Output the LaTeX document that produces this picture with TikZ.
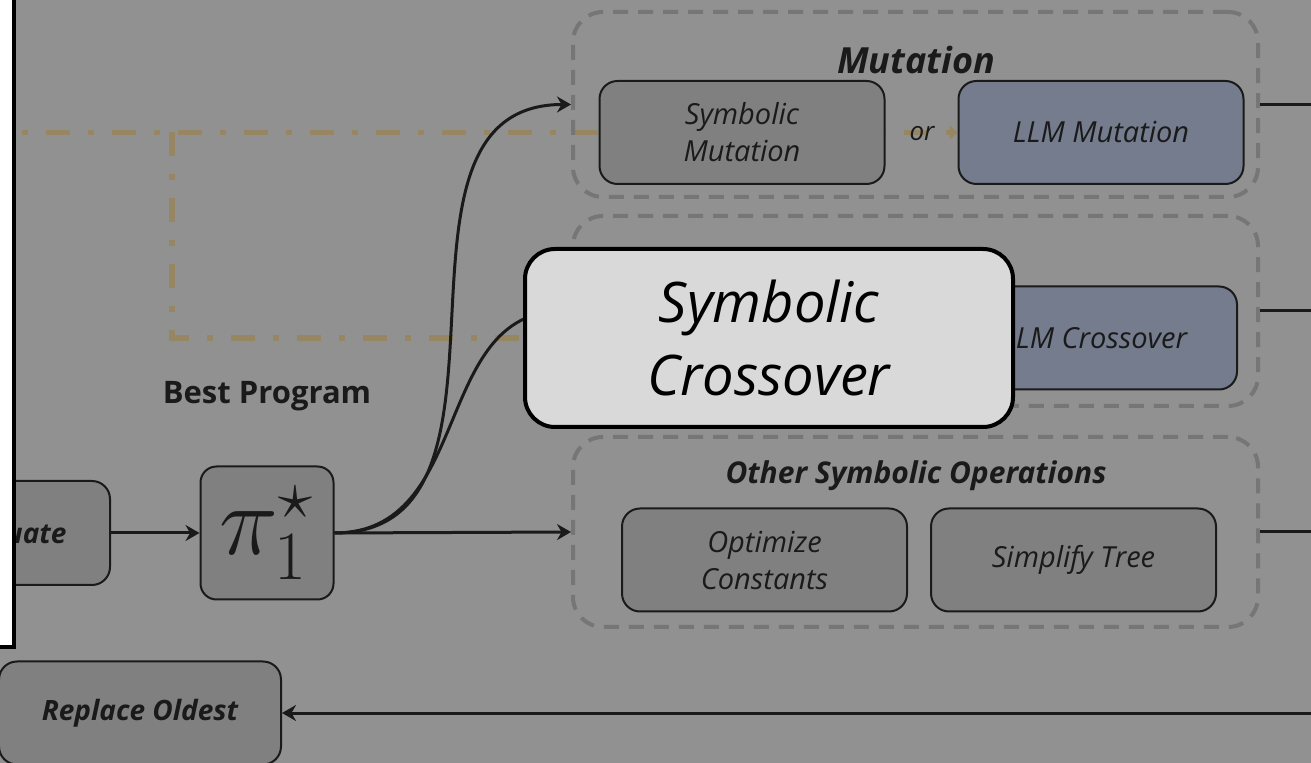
\documentclass[tikz,border=0pt]{standalone}
\usepackage[no-math]{fontspec}
\usepackage{graphicx}
\setmainfont{Open Sans}
\usetikzlibrary{arrows.meta}
\definecolor{bggray}{HTML}{919191}
\definecolor{boxgray}{HTML}{808080}
\definecolor{llmblue}{HTML}{757C8D}
\definecolor{grpgray}{HTML}{767676}
\definecolor{ink}{HTML}{1A1A1A}
\definecolor{tanline}{HTML}{968661}
\definecolor{bigfill}{HTML}{D9D9D9}
\pgfdeclarelayer{back}
\pgfsetlayers{back,main}
\begin{document}
\begin{tikzpicture}[x=0.5pt,y=-0.5pt,
  opbox/.style={draw=ink,line width=1pt,rounded corners=9pt,fill=boxgray,text=ink,align=center,
    minimum width=142.5pt,minimum height=51.5pt,font=\fontsize{14.5}{18.5}\selectfont\itshape},
  llmbox/.style={opbox,fill=llmblue},
  opgroup/.style={draw=grpgray,line width=2pt,dash pattern=on 7.5pt off 5pt,rounded corners=15pt,minimum width=342.5pt},
  grptitle/.style={text=ink,inner sep=0pt},
  flow/.style={draw=ink,line width=1.5pt,-{Stealth[length=7pt,width=8pt]}},
  link/.style={draw=ink,line width=1.5pt},
  llmpath/.style={draw=tanline,line width=2.75pt,dash pattern=on 12pt off 9pt on 3pt off 9pt}]
\begin{pgfonlayer}{back}
\fill[bggray] (0,0) rectangle (1311,763);
\end{pgfonlayer}
\useasboundingbox (0,0) rectangle (1311,763);
\node [opgroup,minimum height=92.5pt] (mutgrp) at (915.5,104.5) {};
\node [opgroup,minimum height=95pt] (crossgrp) at (915.5,311) {};
\node [opgroup,minimum height=95pt] (othergrp) at (915.5,532) {};
\node [grptitle,font=\fontsize{18}{22}\selectfont\bfseries\itshape] (mutitle) at (916,60) {Mutation};
\node [opbox] (symmut) at (742,132.5) {Symbolic\\Mutation};
\node [llmbox] (llmmut) at (1101,132.5) {LLM Mutation};
\node [text=ink,font=\fontsize{13}{15}\selectfont\itshape] (ortext) at (922,134) {or};
\node [llmbox] (llmcross) at (1094.5,338) {LLM Crossover};
\node [grptitle,font=\fontsize{15}{18}\selectfont\bfseries\itshape] (othtitle) at (916,476) {Other Symbolic Operations};
\node [opbox] (optconst) at (764.5,560) {Optimize\\Constants};
\node [opbox] (simptree) at (1073.5,560) {Simplify Tree};
\node [opbox,minimum width=110pt,minimum height=52pt,font=\fontsize{14}{17}\selectfont\bfseries\itshape] (evaluate) at (0,533) {\hspace*{9pt}Evaluate};
\node [opbox,minimum width=66.5pt,minimum height=66.5pt,rounded corners=8pt,font=\fontsize{25}{30}\selectfont] (best) at (267,533) {\scalebox{2}{$\pi_1^\star$}};
\node [grptitle,font=\fontsize{15.5}{19}\selectfont\bfseries] (besttitle) at (267,396) {Best Program};
\node [opbox,minimum width=141pt,minimum height=51.5pt,font=\fontsize{14}{17}\selectfont\bfseries\itshape] (replace) at (140,713) {Replace Oldest};
\coordinate (mutout) at (1311,104.5);
\coordinate (crossout) at (1311,311);
\coordinate (othout) at (1311,532);
\coordinate (replin) at (1311,713);
\coordinate (llmstart) at (-20,132.5);
\coordinate (llmbend) at (172,132.5);
\begin{pgfonlayer}{back}
\draw [llmpath,-{Triangle[length=4pt,width=7pt]}] (llmstart) -- (llmmut.west);
\draw [llmpath,-{Triangle[length=4pt,width=7pt]}] (llmbend) -- (llmbend |- llmcross.west) -- (llmcross.west);
\end{pgfonlayer}
\draw [flow] (evaluate.east) -- (best.west);
\draw [flow] (best.east) to [out=0,in=180,looseness=1.1] (mutgrp.west);
\draw [flow] (best.east) to [out=0,in=180,looseness=1.1] (crossgrp.west);
\draw [flow] (best.east) -- (othergrp.west);
\draw [link] (mutgrp.east) -- (mutout);
\draw [link] (crossgrp.east) -- (crossout);
\draw [link] (othergrp.east) -- (othout);
\draw [flow] (replin) -- (replace.east);
\node [draw=black,line width=2pt,fill=bigfill,rounded corners=15pt,minimum width=244pt,minimum height=89pt,
  align=center,text=black,font=\fontsize{28}{36.5}\selectfont\itshape] (symcross) at (769,338) {Symbolic\\Crossover};
\draw [line width=2pt,fill=white] (-20,-20) rectangle (14,647);
\end{tikzpicture}
\end{document}
